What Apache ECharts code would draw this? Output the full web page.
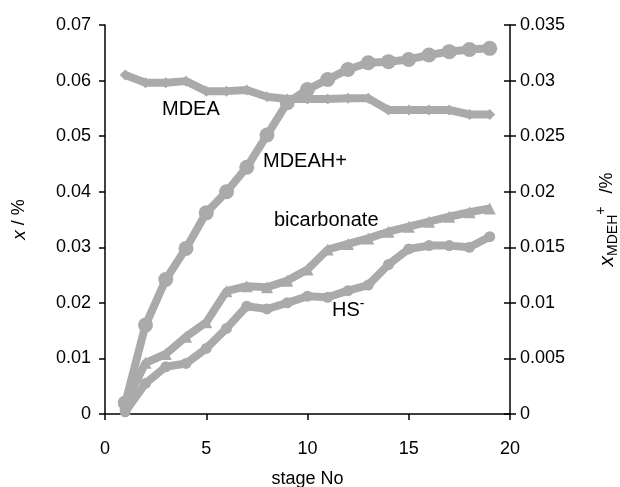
<!DOCTYPE html>
<html>
<head>
<meta charset="utf-8">
<script src="https://cdn.jsdelivr.net/npm/echarts@6/dist/echarts.min.js"></script>
<style>
  html, body { margin: 0; padding: 0; background: #fff; }
  #chart { width: 620px; height: 487px; }
</style>
</head>
<body>
<div id="chart"></div>
<script>
// stages 1..19
const stages = [1, 2, 3, 4, 5, 6, 7, 8, 9, 10, 11, 12, 13, 14, 15, 16, 17, 18, 19]

// left axis (x / %)
const mdea = [0.0610, 0.0596, 0.0596, 0.0599, 0.0581, 0.0581, 0.0583, 0.0571, 0.0567, 0.0567,
  0.0567, 0.0568, 0.0568, 0.0547, 0.0547, 0.0547, 0.0547, 0.0539, 0.0539]
const bicarbonate = [0.0018, 0.0092, 0.0108, 0.0139, 0.0165, 0.0221, 0.0230, 0.0228, 0.0240, 0.0260,
  0.0296, 0.0306, 0.0316, 0.0328, 0.0337, 0.0346, 0.0355, 0.0363, 0.0370]
const hs = [0.0004, 0.0055, 0.0085, 0.0091, 0.0118, 0.0154, 0.0194, 0.0189, 0.0200, 0.0212,
  0.0210, 0.0222, 0.0232, 0.0269, 0.0297, 0.0303, 0.0303, 0.0300, 0.0319]

// right axis (x MDEH+ / %)
const mdeah = [0.0010, 0.0080, 0.0121, 0.0149, 0.0181, 0.0200, 0.0222, 0.0251, 0.0280, 0.0292,
  0.0301, 0.0310, 0.0316, 0.0317, 0.0319, 0.0323, 0.0326, 0.0328, 0.0329]

const grey = '#aaaaaa'
const font = 'Liberation Sans, Arial, sans-serif'

function pairs(ys) {
  return stages.map((s, i) => [s, ys[i]])
}

function lineSeries(name, ys, yAxisIndex, symbol, size) {
  return {
    name,
    type: 'line',
    yAxisIndex,
    data: pairs(ys),
    symbol,
    symbolSize: size,
    lineStyle: { color: grey, width: 8 },
    itemStyle: { color: grey },
    emphasis: { disabled: true },
    animation: false
  }
}

const chart = echarts.init(document.getElementById('chart'))

const axisLine = { show: true, lineStyle: { color: '#000', width: 1.5 } }
const labelStyle = { color: '#000', fontSize: 18, fontFamily: font }
const tick = { length: 6, lineStyle: { color: '#000', width: 1.5 } }

chart.setOption({
  backgroundColor: '#fff',
  // keep the grid fixed even though the x name runs off the bottom
  grid: { left: 105, right: 110, top: 25, bottom: 73, containLabel: false, outerBoundsMode: 'none' },
  xAxis: {
    type: 'value', min: 0, max: 20, interval: 5,
    name: 'stage No', nameLocation: 'middle', nameGap: 56,
    nameTextStyle: labelStyle,
    axisLine, splitLine: { show: false },
    axisTick: tick,
    axisLabel: { ...labelStyle, margin: 26 }
  },
  yAxis: [
    {
      type: 'value', min: 0, max: 0.07, interval: 0.01, position: 'left',
      name: '{i|x} / %', nameLocation: 'middle', nameGap: 76, nameRotate: 90,
      nameTextStyle: { ...labelStyle, rich: { i: { fontStyle: 'italic', fontSize: 19, fontFamily: font } } },
      axisLine, splitLine: { show: false },
      axisTick: tick,
      axisLabel: { ...labelStyle, margin: 14 }
    },
    {
      type: 'value', min: 0, max: 0.035, interval: 0.005, position: 'right',
      name: '{i|x}{sub|MDEH}{sup|+} /%', nameLocation: 'middle', nameGap: 84, nameRotate: 90,
      nameTextStyle: {
        ...labelStyle,
        rich: {
          i: { fontStyle: 'italic', fontSize: 21, fontFamily: font },
          sub: { fontSize: 14, fontFamily: font, verticalAlign: 'bottom', padding: [8, 0, 0, 0] },
          sup: { fontSize: 14, fontFamily: font, verticalAlign: 'top', padding: [0, 8, 12, 0] }
        }
      },
      axisLine, splitLine: { show: false },
      axisTick: tick,
      axisLabel: { ...labelStyle, margin: 10 }
    },
    {
      // inside half of the crossing ticks on the right axis
      type: 'value', min: 0, max: 0.035, interval: 0.005, position: 'right',
      axisLine: { show: false }, splitLine: { show: false },
      axisTick: { ...tick, inside: true },
      axisLabel: { show: false }
    }
  ],
  series: [
    lineSeries('MDEA', mdea, 0, 'diamond', 11),
    lineSeries('bicarbonate', bicarbonate, 0, 'triangle', 12),
    lineSeries('HS-', hs, 0, 'circle', 11),
    lineSeries('MDEAH+', mdeah, 1, 'circle', 15)
  ],
  graphic: [
    { type: 'text', left: 162, top: 99, style: { text: 'MDEA', font: '20px ' + font, fill: '#000' } },
    { type: 'text', left: 263, top: 151, style: { text: 'MDEAH+', font: '20px ' + font, fill: '#000' } },
    { type: 'text', left: 274, top: 210, style: { text: 'bicarbonate', font: '20px ' + font, fill: '#000' } },
    {
      type: 'text', left: 332, top: 297,
      style: {
        text: 'HS{s|-}', font: '20px ' + font, fill: '#000',
        rich: { s: { fontSize: 14, fontFamily: font, verticalAlign: 'top', padding: [0, 0, 12, 0] } }
      }
    }
  ]
})
</script>
</body>
</html>
